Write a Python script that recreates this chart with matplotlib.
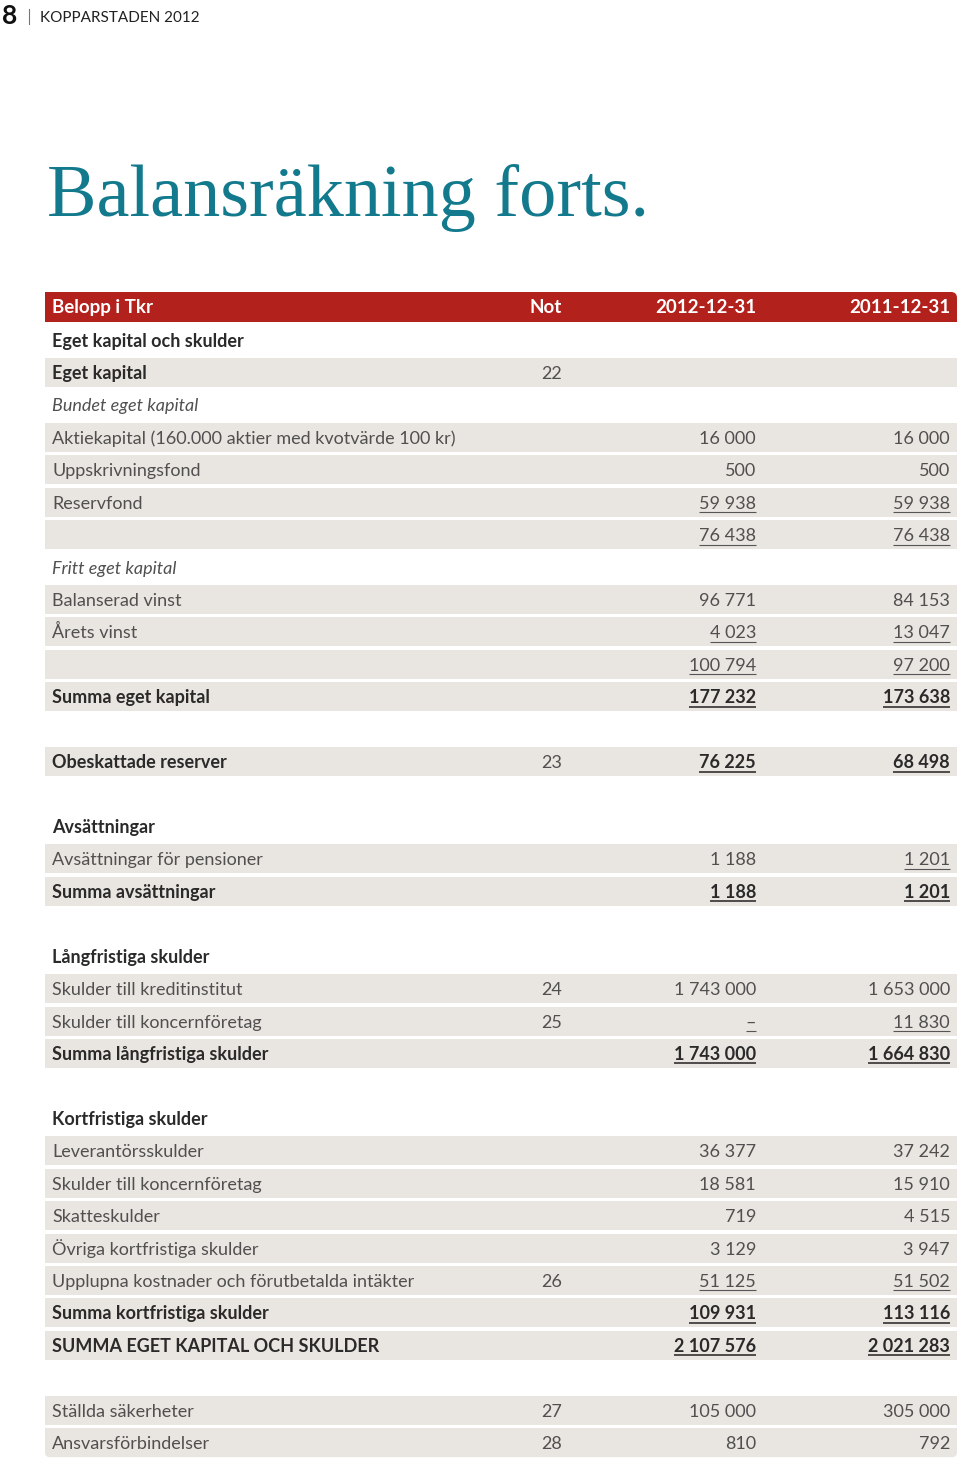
import matplotlib
matplotlib.use('Agg')
import matplotlib.pyplot as plt
from matplotlib.patches import Rectangle, FancyBboxPatch

# Radernas text (None = mellanrum mellan sektionerna)
labels = ['Eget kapital och skulder', 'Eget kapital', 'Bundet eget kapital',
          'Aktiekapital (160.000 aktier med kvotvärde 100 kr)', 'Uppskrivningsfond',
          'Reservfond', '', 'Fritt eget kapital', 'Balanserad vinst', 'Årets vinst', '',
          'Summa eget kapital', None, 'Obeskattade reserver', None, 'Avsättningar',
          'Avsättningar för pensioner', 'Summa avsättningar', None, 'Långfristiga skulder',
          'Skulder till kreditinstitut', 'Skulder till koncernföretag',
          'Summa långfristiga skulder', None, 'Kortfristiga skulder', 'Leverantörsskulder',
          'Skulder till koncernföretag', 'Skatteskulder', 'Övriga kortfristiga skulder',
          'Upplupna kostnader och förutbetalda intäkter', 'Summa kortfristiga skulder',
          'SUMMA EGET KAPITAL OCH SKULDER', None, 'Ställda säkerheter', 'Ansvarsförbindelser']
noter = ['', '22', '', '', '', '', '', '', '', '', '', '', None, '23', None, '', '', '', None,
         '', '24', '25', '', None, '', '', '', '', '', '26', '', '', None, '27', '28']
v2012 = ['', '', '', '16 000', '500', '59 938', '76 438', '', '96 771', '4 023', '100 794',
         '177 232', None, '76 225', None, '', '1 188', '1 188', None, '', '1 743 000', '–',
         '1 743 000', None, '', '36 377', '18 581', '719', '3 129', '51 125', '109 931',
         '2 107 576', None, '105 000', '810']
v2011 = ['', '', '', '16 000', '500', '59 938', '76 438', '', '84 153', '13 047', '97 200',
         '173 638', None, '68 498', None, '', '1 201', '1 201', None, '', '1 653 000', '11 830',
         '1 664 830', None, '', '37 242', '15 910', '4 515', '3 947', '51 502', '113 116',
         '2 021 283', None, '305 000', '792']

# radtyp: h = rubrik, s = skuggad fetstil, i = kursiv, r = vanlig rad, b = tom
radtyp = ['h', 's', 'i', 'r', 'r', 'r', 'r', 'i', 'r', 'r', 'r', 's', 'b', 's', 'b', 'h',
          'r', 's', 'b', 'h', 'r', 'r', 's', 'b', 'h', 'r', 'r', 'r', 'r', 'r', 's', 's', 'b',
          'r', 'r']
understruken_2012 = {5, 6, 9, 10, 11, 13, 17, 21, 22, 29, 30, 31}
understruken_2011 = {5, 6, 9, 10, 11, 13, 16, 17, 21, 22, 29, 30, 31}

plt.rcParams['font.family'] = ['Lato', 'DejaVu Sans']

RED = '#b2211b'
GRAY = '#e9e5e0'
TEAL = '#137a8d'
DARK = '#2a2a2a'
LIGHT = '#505050'

fig = plt.figure(figsize=(9.6, 14.63), dpi=100)
ax = fig.add_axes([0, 0, 1, 1])
ax.set_xlim(0, 960)
ax.set_ylim(1463, 0)
ax.axis('off')

# sidhuvud
ax.text(2, 24, '8', fontsize=19, fontweight='bold', color='#111111')
ax.plot([29, 29], [9, 24], color='#777777', lw=0.8)
ax.text(40, 22, 'KOPPARSTADEN 2012', fontsize=11, color='#222222')

# titel
ax.text(47, 216, 'Balansräkning forts.', fontsize=53.5, color=TEAL,
        family=['Liberation Serif', 'DejaVu Serif'])

X0, X1 = 45, 957
XL, XN, X12, X11 = 52, 562, 756, 950
fs = 13

# tabellhuvud
ax.add_patch(FancyBboxPatch((X0, 292), X1 - X0, 30, boxstyle='round,pad=0,rounding_size=6',
                            fc=RED, ec='none'))
ax.add_patch(Rectangle((X0, 307), X1 - X0, 15, fc=RED, ec='none'))
ax.add_patch(Rectangle((X0, 292), 10, 15, fc=RED, ec='none'))
hy = 313
for x, t, ha in [(XL, 'Belopp i Tkr', 'left'), (XN, 'Not', 'right'),
                 (X12, '2012-12-31', 'right'), (X11, '2011-12-31', 'right')]:
    ax.text(x, hy, t, fontsize=13.5, fontweight='bold', color='white', ha=ha, va='baseline')

y0, dy = 340.0, 32.43
n = len(labels)
under = []
for i, lab in enumerate(labels):
    kind = radtyp[i]
    if kind == 'b':
        continue
    yc = y0 + i * dy
    if kind in ('s', 'r'):
        if i == n - 1:
            ax.add_patch(FancyBboxPatch((X0, yc - 14.5), X1 - X0, 29,
                                        boxstyle='round,pad=0,rounding_size=5',
                                        fc=GRAY, ec='none', zorder=0))
            ax.add_patch(Rectangle((X0, yc - 14.5), X1 - X0, 15, fc=GRAY, ec='none', zorder=0))
        else:
            ax.add_patch(Rectangle((X0, yc - 14.5), X1 - X0, 29, fc=GRAY, ec='none', zorder=0))
    bold = kind in ('s', 'h')
    base = yc + 6.5
    style = 'italic' if kind == 'i' else 'normal'
    col = DARK if bold else LIGHT
    w = 'bold' if bold else 'normal'
    ax.text(XL, base, lab, fontsize=fs, fontweight=w, style=style, color=col, va='baseline')
    if noter[i]:
        ax.text(XN, base, noter[i], fontsize=fs, color=LIGHT, ha='right', va='baseline')
    for x, vals, ul in [(X12, v2012, understruken_2012), (X11, v2011, understruken_2011)]:
        if vals[i]:
            t = ax.text(x, base, vals[i], fontsize=fs, fontweight=w, color=col,
                        ha='right', va='baseline')
            if i in ul:
                under.append((t, base, bold))

# understrykningar efter att textens bredd är känd
fig.canvas.draw()
r = fig.canvas.get_renderer()
inv = ax.transData.inverted()
for t, base, bold in under:
    bb = t.get_window_extent(r)
    xa = inv.transform((bb.x0, 0))[0]
    xb = inv.transform((bb.x1, 0))[0]
    ax.plot([xa, xb], [base + 3.5, base + 3.5], color='#222222' if bold else '#555555',
            lw=1.1 if bold else 0.8, solid_capstyle='butt')

fig.savefig('out.png', dpi=100, facecolor='white')
